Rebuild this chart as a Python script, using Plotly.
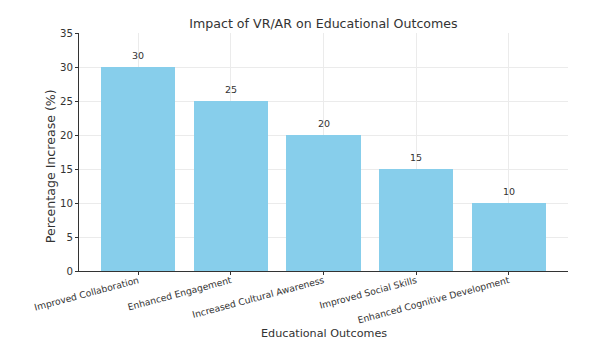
import plotly.graph_objects as go

categories = ["Improved Collaboration", "Enhanced Engagement", "Increased Cultural Awareness",
              "Improved Social Skills", "Enhanced Cognitive Development"]
values = [30, 25, 20, 15, 10]
y_ticks = [0, 5, 10, 15, 20, 25, 30, 35]

font_family = "DejaVu Sans"
text_color = "#333333"
positions = list(range(len(categories)))

fig = go.Figure()
fig.add_trace(go.Bar(
    x=positions, y=values,
    width=0.8,
    marker=dict(color="#87CEEB", line=dict(width=0)),
))
# invisible helper trace so the tick-only overlay axis renders
fig.add_trace(go.Scatter(x=[positions[0]], y=[0], xaxis="x2", mode="markers",
                         marker=dict(opacity=0), hoverinfo="skip", showlegend=False))

for i, v in enumerate(values):
    fig.add_annotation(x=i, y=v, text=str(v), showarrow=False,
                       yanchor="bottom", yshift=4,
                       font=dict(family=font_family, size=9.5, color=text_color))

# axis titles
fig.add_annotation(xref="paper", yref="paper", x=0.5, y=-0.262, text="Educational Outcomes",
                   showarrow=False, xanchor="center", yanchor="middle",
                   font=dict(family=font_family, size=11.2, color=text_color))
fig.add_annotation(xref="paper", yref="paper", x=-0.059, y=0.441, text="Percentage Increase (%)",
                   showarrow=False, xanchor="center", yanchor="middle", textangle=-90,
                   font=dict(family=font_family, size=12.6, color=text_color))

fig.update_layout(
    width=615, height=351,
    margin=dict(l=79, r=47, t=33, b=80, autoexpand=False),
    paper_bgcolor="white", plot_bgcolor="white",
    font=dict(family=font_family, color=text_color),
    title=dict(text="Impact of VR/AR on Educational Outcomes", x=0.526, xanchor="center",
               y=0.934, yanchor="middle", font=dict(size=12.6, color=text_color)),
    showlegend=False,
    bargap=0,
    xaxis=dict(
        range=[-0.64, 4.64], automargin=False,
        tickmode="array", tickvals=positions, ticktext=categories,
        tickangle=-15, tickfont=dict(size=9.2, color=text_color),
        showgrid=True, gridcolor="#ebebeb", gridwidth=1,
        showline=True, linecolor="#333333", linewidth=1,
        ticks="", zeroline=False,
    ),
    xaxis2=dict(overlaying="x", side="bottom", range=[-0.64, 4.64], automargin=False,
                tickmode="array", tickvals=positions, showticklabels=False,
                ticks="outside", ticklen=3, tickcolor="#333333",
                showgrid=False, showline=False, zeroline=False, anchor="y"),
    yaxis=dict(
        range=[0, 35], tickmode="array", tickvals=y_ticks, automargin=False,
        tickfont=dict(size=10.2, color=text_color),
        showgrid=True, gridcolor="#ebebeb", gridwidth=1,
        showline=True, linecolor="#333333", linewidth=1,
        ticks="outside", ticklen=3, tickcolor="#333333",
        zeroline=False,
    ),
)

fig.write_html("out.html")
